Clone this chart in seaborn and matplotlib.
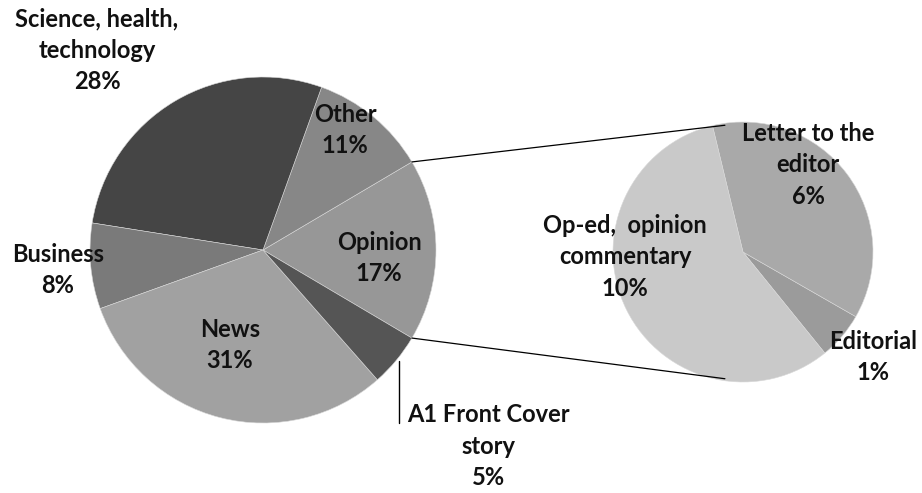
import numpy as np
import matplotlib
matplotlib.use("Agg")
import matplotlib.pyplot as plt
import seaborn as sns

# ---- data ----
main_labels = ["Opinion", "Other", "Science, health,\ntechnology", "Business", "News", "A1 Front Cover\nstory"]
main_values = [17, 11, 28, 8, 31, 5]
main_colors = ["#979797", "#878787", "#454545", "#7a7a7a", "#a1a1a1", "#555555"]

sub_labels = ["Editorial", "Letter to the\neditor", "Op-ed,  opinion\ncommentary"]
sub_values = [1.0, 6.3, 9.7]
sub_colors = ["#9b9b9b", "#a9a9a9", "#c9c9c9"]

sns.set_theme(style="white")
plt.rcParams['font.family'] = ['Lato', 'DejaVu Sans']

W, H = 922, 493
fig = plt.figure(figsize=(W / 100, H / 100), dpi=100)
ax = fig.add_axes([0, 0, 1, 1])

mc = (263, H - 250)
mr = 173
sc = (743, H - 252)
sr = 130

total = sum(main_values)
start_main = -main_values[0] / total * 360 / 2
ax.pie(main_values, colors=main_colors, startangle=start_main, counterclock=True,
       center=mc, radius=mr, wedgeprops=dict(edgecolor="#d8d8d8", linewidth=0.4),
       frame=True)

ax.pie(sub_values, colors=sub_colors, startangle=-51, counterclock=True,
       center=sc, radius=sr, wedgeprops=dict(edgecolor="#d8d8d8", linewidth=0.4),
       frame=True)
ax.set_xlim(0, W)
ax.set_ylim(0, H)
ax.set_aspect("equal")
ax.axis("off")

# connector lines
a = np.deg2rad(-start_main)
p_top = (mc[0] + mr * np.cos(a), mc[1] + mr * np.sin(a))
p_bot = (mc[0] + mr * np.cos(-a), mc[1] + mr * np.sin(-a))
b = np.deg2rad(98)
q_top = (sc[0] + sr * np.cos(b), sc[1] + sr * np.sin(b) - 2)
q_bot = (sc[0] + sr * np.cos(-b), sc[1] + sr * np.sin(-b) + 2)
ax.plot([p_top[0], q_top[0]], [p_top[1], q_top[1]], color="black", lw=0.9)
ax.plot([p_bot[0], q_bot[0]], [p_bot[1], q_bot[1]], color="black", lw=0.9)

# A1 leader line
ax.plot([399, 399], [H - 361, H - 423], color="black", lw=1.0)

fs = 17
kw = dict(fontsize=fs, fontweight="bold", color="#111111", ha="center", va="center", linespacing=1.45)

main_pos = [(379, 258), (345, 130), (97, 50), (58, 270), (230, 345), (488, 446)]
for lab, v, (x, y) in zip(main_labels, main_values, main_pos):
    ax.text(x, H - y, f"{lab}\n{round(v)}%", **kw)

sub_pos = [(873, 357), (808, 165), (625, 257)]
for lab, v, (x, y) in zip(sub_labels, sub_values, sub_pos):
    ax.text(x, H - y, f"{lab}\n{round(v)}%", **kw)

fig.savefig("out.png", dpi=100)
